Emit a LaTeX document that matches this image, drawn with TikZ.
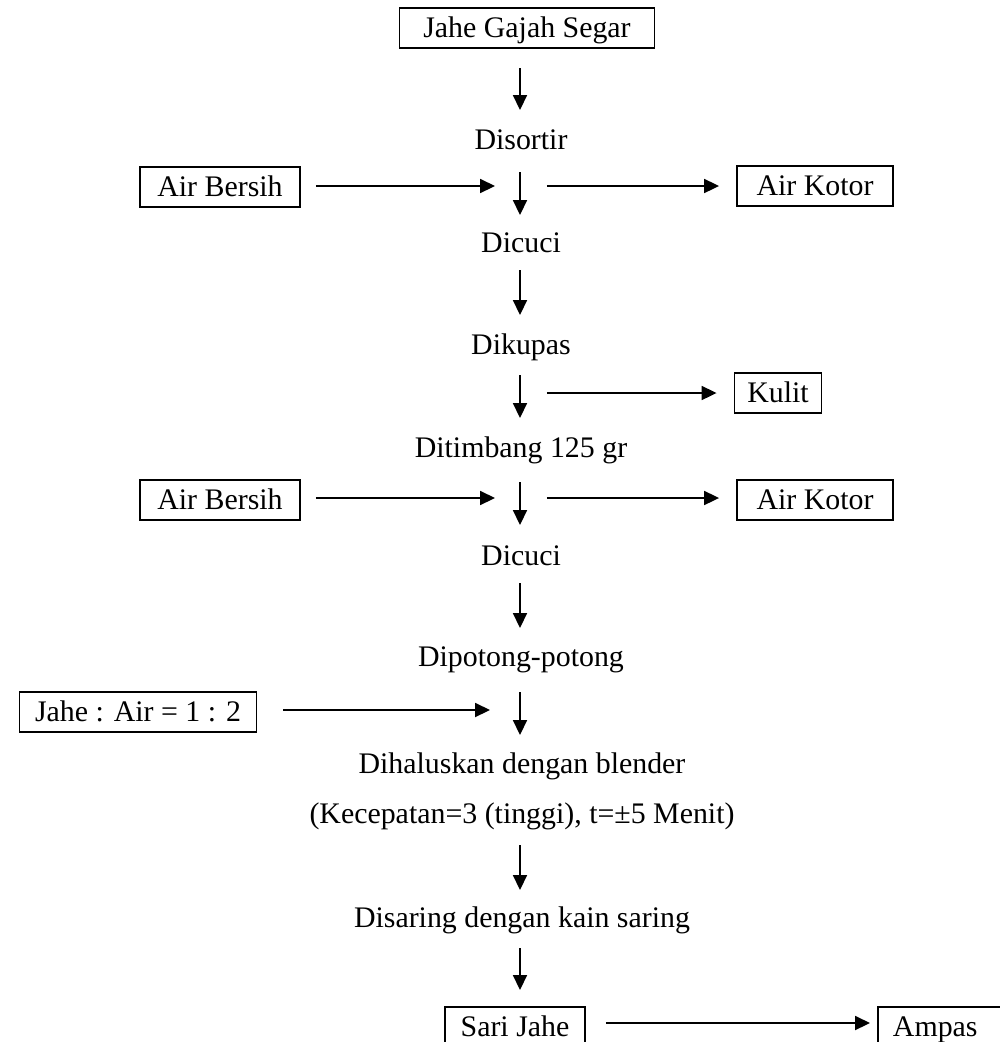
\documentclass[tikz,border=0pt]{standalone}
\usepackage{fontspec}
\setmainfont{Liberation Serif}
\usetikzlibrary{arrows.meta}
\tikzset{
	arr/.style={line width=0.9pt,-{Triangle[length=8.5pt,width=8pt]}},
	stepbox/.style={draw,line width=1.1pt,inner sep=0pt,minimum height=0.8cm,text height=11pt,text depth=0pt},
	steptext/.style={inner sep=0pt}
}
\begin{document}
\begin{tikzpicture}[x=0.02cm,y=-0.02cm,font=\fontsize{17}{20}\selectfont]
	\useasboundingbox (0,0) rectangle (1000,1042);
	\clip (0,0) rectangle (1000,1042);
	% main column
	\node[stepbox,minimum width=5.1cm] (jahe) at (527,28) {Jahe Gajah Segar};
	\node[steptext] (sortir) at (521,140) {Disortir};
	\node[steptext] (cuci1) at (521,243) {Dicuci};
	\node[steptext] (kupas) at (521,347) {Dikupas};
	\node[steptext] (timbang) at (521,450) {Ditimbang 125 gr};
	\node[steptext] (cuci2) at (521,556) {Dicuci};
	\node[steptext] (potong) at (521,660) {Dipotong-potong};
	\node[steptext] (halus) at (522,766) {Dihaluskan dengan blender};
	\node[steptext] (kecepatan) at (522,816) {(Kecepatan=3 (tinggi), t=±5 Menit)};
	\node[steptext] (saring) at (522,920) {Disaring dengan kain saring};
	\node[stepbox,minimum width=2.8cm] (sari) at (515,1027) {Sari Jahe};
	% side boxes
	\node[stepbox,minimum width=3.2cm] (airbersih1) at (220,187) {Air Bersih};
	\node[stepbox,minimum width=3.12cm] (airkotor1) at (815,186) {Air Kotor};
	\node[stepbox,minimum width=1.74cm] (kulit) at (778,393) {Kulit};
	\node[stepbox,minimum width=3.2cm] (airbersih2) at (220,500) {Air Bersih};
	\node[stepbox,minimum width=3.12cm] (airkotor2) at (815,500) {Air Kotor};
	\node[stepbox,minimum width=4.74cm] (rasio) at (138,712) {Jahe : Air = 1 : 2};
	\node[stepbox,anchor=west,text width=2.6cm,inner xsep=0.3cm,align=left] (ampas) at (877,1027) {Ampas};
	% arrow ends
	\coordinate (v1a) at (520,68);  \coordinate (v1b) at (520,110);
	\coordinate (v2a) at (520,172); \coordinate (v2b) at (520,215);
	\coordinate (v3a) at (520,270); \coordinate (v3b) at (520,315);
	\coordinate (v4a) at (520,375); \coordinate (v4b) at (520,418);
	\coordinate (v5a) at (520,482); \coordinate (v5b) at (520,525);
	\coordinate (v6a) at (520,583); \coordinate (v6b) at (520,628);
	\coordinate (v7a) at (520,692); \coordinate (v7b) at (520,735);
	\coordinate (v8a) at (520,845); \coordinate (v8b) at (520,890);
	\coordinate (v9a) at (520,948); \coordinate (v9b) at (520,990);
	\foreach \i in {1,...,9}
		\draw[arr] (v\i a) -- (v\i b);
	% side flows
	\coordinate (j2) at (520,186);
	\coordinate (j4) at (520,393);
	\coordinate (j5) at (520,498);
	\coordinate (j7) at (520,710);
	\coordinate (j10) at (520,1023);
	\draw[arr,shorten <=0.3cm,shorten >=0.5cm] (airbersih1.east|-j2) -- (j2);
	\draw[arr,shorten <=0.54cm,shorten >=0.34cm] (j2) -- (airkotor1.west|-j2);
	\draw[arr,shorten <=0.54cm,shorten >=0.34cm] (j4) -- (kulit.west|-j4);
	\draw[arr,shorten <=0.3cm,shorten >=0.5cm] (airbersih2.east|-j5) -- (j5);
	\draw[arr,shorten <=0.54cm,shorten >=0.34cm] (j5) -- (airkotor2.west|-j5);
	\draw[arr,shorten <=0.52cm,shorten >=0.6cm] (rasio.east|-j7) -- (j7);
	\draw[arr,shorten <=0.4cm,shorten >=0.14cm] (sari.east|-j10) -- (ampas.west|-j10);
\end{tikzpicture}
\end{document}
